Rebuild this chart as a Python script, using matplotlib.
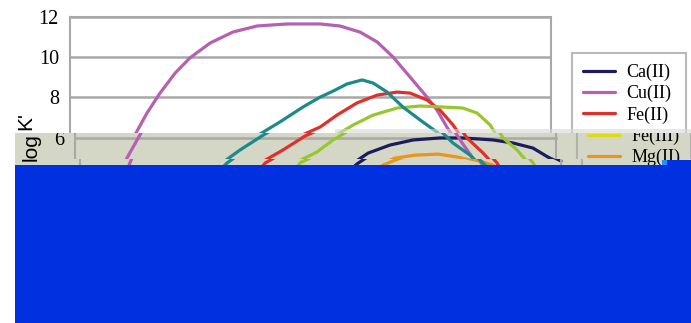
import matplotlib
matplotlib.use("Agg")
import matplotlib.pyplot as plt
from matplotlib.patches import Rectangle
from matplotlib.transforms import Bbox, TransformedBbox

W, H = 691, 323

# conditional stability constants vs pH
ph_ca = [7.71, 8.06, 8.53, 9.17, 9.84, 10.62, 11.29, 12.17, 12.75, 13.33, 13.77, 14.00]
logk_ca = [4.15, 4.70, 5.24, 5.64, 5.89, 5.99, 5.99, 5.89, 5.74, 5.49, 5.04, 4.85]

ph_cu = [1.31, 1.51, 1.89, 2.24, 2.62, 3.06, 3.49, 4.08, 4.74, 5.44, 6.32, 7.28, 7.86,
         8.44, 8.94, 9.40, 9.90, 10.39, 10.68, 10.97, 11.27, 11.56, 11.85]
logk_cu = [4.15, 4.99, 6.14, 7.22, 8.21, 9.20, 9.95, 10.69, 11.23, 11.53, 11.63, 11.63, 11.53,
           11.23, 10.74, 10.00, 9.00, 8.01, 7.37, 6.53, 5.74, 5.04, 4.30]

ph_fe2 = [5.09, 5.39, 6.05, 6.70, 7.28, 7.77, 8.35, 8.94, 9.52, 9.90, 10.39, 10.77,
          11.15, 11.41, 11.88, 12.14, 12.28]
logk_fe2 = [4.15, 4.75, 5.39, 6.09, 6.53, 7.12, 7.72, 8.11, 8.26, 8.21, 7.87, 7.37,
            6.63, 5.99, 5.24, 4.75, 4.30]

ph_fe3 = [2.0, 3.0, 4.0, 5.0, 6.0]
logk_fe3 = [2.5, 3.3, 3.6, 3.3, 2.5]

ph_mg = [8.44, 8.82, 9.32, 9.90, 10.57, 11.15, 11.73, 12.02, 12.23]
logk_mg = [4.15, 4.65, 4.99, 5.14, 5.19, 5.04, 4.80, 4.65, 4.30]

ph_mn = [6.17, 6.40, 7.04, 7.51, 8.24, 8.82, 9.52, 10.19, 10.86, 11.44, 11.85,
         12.23, 12.46, 12.87, 13.19, 13.33]
logk_mn = [4.15, 4.75, 5.29, 5.89, 6.63, 7.12, 7.47, 7.57, 7.52, 7.47, 7.22,
           6.63, 5.99, 5.39, 4.75, 4.30]

ph_zn = [3.93, 4.28, 4.80, 5.44, 6.11, 6.78, 7.28, 7.66, 8.06, 8.50, 8.82, 9.23,
         9.69, 10.19, 10.68, 11.00, 11.50, 11.93]
logk_zn = [4.15, 4.75, 5.39, 6.09, 6.78, 7.52, 8.01, 8.31, 8.66, 8.86, 8.71, 8.26,
           7.52, 6.88, 6.28, 5.74, 5.14, 4.40]

series = [
    ("Ca(II)", ph_ca, logk_ca, "#1c1c5c"),
    ("Cu(II)", ph_cu, logk_cu, "#b560b0"),
    ("Fe(II)", ph_fe2, logk_fe2, "#e0302c"),
    ("Fe(III)", ph_fe3, logk_fe3, "#dcdc10"),
    ("Mg(II)", ph_mg, logk_mg, "#e8961c"),
    ("Mn(II)", ph_mn, logk_mn, "#98c62e"),
    ("Zn(II)", ph_zn, logk_zn, "#1c8a8a"),
]
yticks = [0, 2, 4, 6, 8, 10, 12]
xticks = [0, 2, 4, 6, 8, 10, 12, 14]

GRID = "#a8a8a8"
SERIF = "Liberation Serif"


def px_box(x0, y0, x1, y1):
    # pixel box (top-left origin) -> figure fraction rectangle
    return (x0 / W, 1 - y1 / H), (x1 - x0) / W, (y1 - y0) / H


def draw_chart(fig, dx=0, zorder=0):
    ax = fig.add_axes([(70 + dx) / W, 1 - 259 / H, 481 / W, 242.5 / H], zorder=zorder)
    ax.set_facecolor("none")
    for name, x, y, c in series:
        ax.plot(x, y, color=c, lw=2.3, label=name, solid_capstyle="round")
    ax.set_xlim(0, 14)
    ax.set_ylim(0, 12)
    ax.set_yticks(yticks)
    ax.set_xticks(xticks)
    ax.yaxis.grid(True, color=GRID, lw=1.8)
    ax.set_axisbelow(True)
    for s in ax.spines.values():
        s.set_color(GRID)
        s.set_linewidth(1.5)
    ax.tick_params(length=0, pad=8)
    for lab in ax.get_yticklabels() + ax.get_xticklabels():
        lab.set_fontfamily(SERIF)
        lab.set_fontsize(14.5)
    ax.set_xlabel("pH", family=SERIF, fontsize=14.5)
    # y label in two pieces so each can sit in its own slice
    lab_k = ax.text(-44 / 481, (259 - 130) / 242.5, "K'", transform=ax.transAxes, rotation=90,
                    ha="center", va="bottom", family="Liberation Sans", fontsize=15)
    lab_log = ax.text(-44 / 481, (259 - 161) / 242.5, "log", transform=ax.transAxes, rotation=90,
                      ha="center", va="bottom", family="Liberation Sans", fontsize=15)
    leg = ax.legend(loc="upper left", bbox_to_anchor=(502 / 481, 206 / 242.5),
                    prop={"family": SERIF, "size": 13}, fancybox=False, edgecolor=GRID,
                    facecolor="none", borderpad=0.6, handlelength=1.8, handletextpad=0.6,
                    labelspacing=0.22, borderaxespad=0)
    leg.get_frame().set_linewidth(1.5)
    return ax, leg, lab_k, lab_log


def slice_box(fig, y0, y1):
    return TransformedBbox(Bbox.from_extents(15 / W, 1 - y1 / H, 1, 1 - y0 / H), fig.transFigure)


def clip_to(ax, box):
    # keep only a horizontal slice of a chart copy, without its texts
    for a in ax.findobj():
        if a is ax:
            continue
        a.set_clip_on(True)
        a.set_clip_box(box)
        a.set_clip_path(None)
        if isinstance(a, plt.Text):
            a.set_visible(False)


i6 = yticks.index(6)

fig = plt.figure(figsize=(W / 100, H / 100), dpi=100)
fig.patch.set_facecolor("white")

ax0, leg0, k0, log0 = draw_chart(fig)
# these texts are shown by the shifted copy in the grey strip
log0.set_visible(False)
ax0.yaxis.get_major_ticks()[i6].label1.set_visible(False)
leg0.get_texts()[3].set_visible(False)
leg0.get_texts()[4].set_visible(False)

# grey strip across the middle, carrying shifted copies of the chart
xy, w, h = px_box(15, 133, W, 165)
fig.add_artist(Rectangle(xy, w, h, transform=fig.transFigure, fc="#d4d6c6", ec="none", zorder=1))
xy, w, h = px_box(335, 129, W, 133)
fig.add_artist(Rectangle(xy, w, h, transform=fig.transFigure, fc="#d8d8d8", ec="none",
                         alpha=0.6, zorder=1))

ax1, leg1, k1, log1 = draw_chart(fig, dx=5, zorder=2)
clip_to(ax1, slice_box(fig, 133, 159))
wide = slice_box(fig, 133, 165)
tick6 = ax1.yaxis.get_major_ticks()[i6].label1
for t in [log1, tick6, leg1.get_texts()[3], leg1.get_texts()[4]]:
    t.set_visible(True)
    t.set_clip_box(wide)

ax2, leg2, k2, log2 = draw_chart(fig, dx=10, zorder=3)
clip_to(ax2, slice_box(fig, 159, 165))

# blue blocks over the lower part
xy, w, h = px_box(15, 165, W, H)
fig.add_artist(Rectangle(xy, w, h, transform=fig.transFigure, fc="#0030e0", ec="none", zorder=10))
xy, w, h = px_box(667, 160, W, 165)
fig.add_artist(Rectangle(xy, w, h, transform=fig.transFigure, fc="#0030e0", ec="none", zorder=10))
xy, w, h = px_box(662, 160, 667, 165)
fig.add_artist(Rectangle(xy, w, h, transform=fig.transFigure, fc="#1e90ff", ec="none", zorder=10))

fig.savefig("out.png", dpi=100)
